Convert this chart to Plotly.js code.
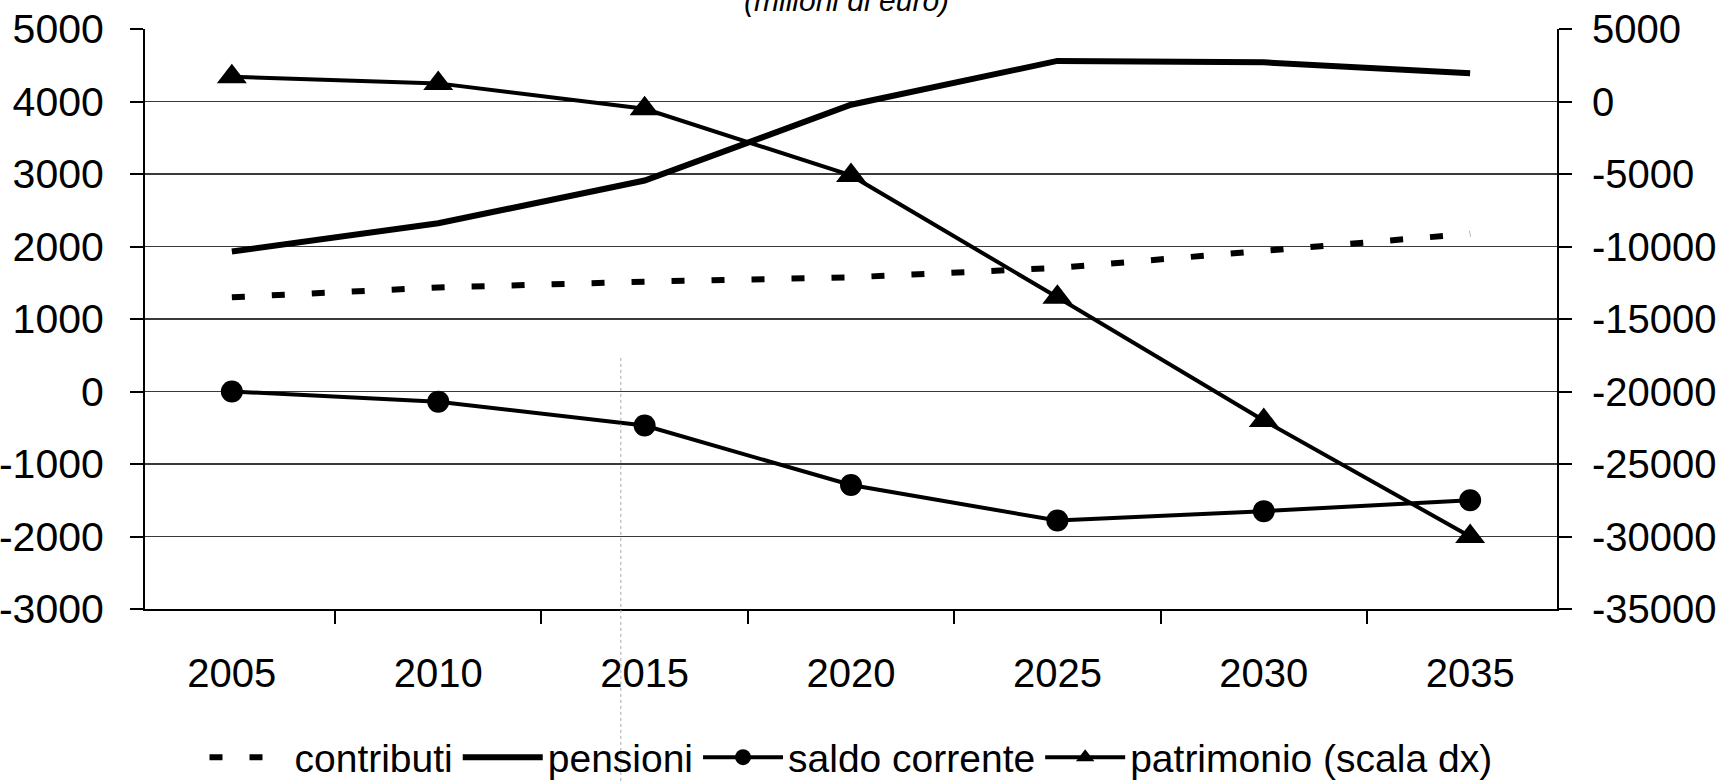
<!DOCTYPE html>
<html>
<head>
<meta charset="utf-8">
<script src="https://cdn.plot.ly/plotly-3.0.1.min.js"></script>
<style>html,body{margin:0;padding:0;background:#fff;}</style>
</head>
<body>
<div id="chart" style="width:1720px;height:784px;"></div>
<script>
const years = ["2005", "2010", "2015", "2020", "2025", "2030", "2035"];
const contributi = [1300, 1435, 1515, 1575, 1705, 1930, 2175];
const pensioni = [1930, 2320, 2910, 3955, 4560, 4540, 4390];
const saldoCorrente = [0, -140, -470, -1290, -1780, -1650, -1500];
const patrimonio = [1700, 1250, -500, -5100, -13500, -22000, -30000];
const leftTicks = [-3000, -2000, -1000, 0, 1000, 2000, 3000, 4000, 5000];
const leftTickText = ["-3000", "-2000", "-1000", "0", "1000", "2000", "3000", "4000", "5000"];
const rightTicks = [-35000, -30000, -25000, -20000, -15000, -10000, -5000, 0, 5000];
const rightTickText = ["-35000", "-30000", "-25000", "-20000", "-15000", "-10000", "-5000", "0", "5000"];

const FONT = '"Liberation Sans", Arial, sans-serif';
const TICKSIZE = 40;

const traces = [
  {x: years, y: contributi, name: 'contributi', type: 'scatter', mode: 'lines',
   line: {color: '#000', width: 6, dash: '13px,27px'}},
  {x: years, y: pensioni, name: 'pensioni', type: 'scatter', mode: 'lines',
   line: {color: '#000', width: 6}},
  {x: years, y: saldoCorrente, name: 'saldo corrente', type: 'scatter', mode: 'lines+markers',
   line: {color: '#000', width: 4}, marker: {symbol: 'circle', size: 22, color: '#000'}},
  {x: years, y: patrimonio, name: 'patrimonio (scala dx)', type: 'scatter', mode: 'lines+markers',
   yaxis: 'y2', line: {color: '#000', width: 4}, marker: {symbol: 'triangle-up', size: 26, color: '#000'}}
];

const layout = {
  width: 1720, height: 784,
  margin: {l: 145, r: 163, t: 29, b: 175, autoexpand: false},
  paper_bgcolor: '#fff', plot_bgcolor: '#fff',
  font: {family: FONT, size: TICKSIZE, color: '#000'},
  showlegend: true,
  legend: {orientation: 'h', x: 0.5, xanchor: 'center', yref: 'container', y: 0.034, yanchor: 'middle',
           font: {family: FONT, size: 39, color: '#000'}, itemwidth: 80, bgcolor: 'rgba(0,0,0,0)'},
  xaxis: {type: 'category', tickson: 'boundaries', ticks: 'outside', ticklen: 13, tickwidth: 2,
          tickcolor: '#000', showline: true, linecolor: '#000', linewidth: 2, showgrid: false,
          tickfont: {family: FONT, size: TICKSIZE, color: '#000'}, ticklabelstandoff: 28, fixedrange: true},
  yaxis: {range: [-3000, 5000], tickvals: leftTicks, ticktext: leftTickText, ticks: 'outside', ticklen: 13, tickwidth: 2,
          tickcolor: '#000', showline: true, linecolor: '#000', linewidth: 2, showgrid: true,
          gridcolor: '#3a3a3a', gridwidth: 1.4, zeroline: false,
          tickfont: {family: FONT, size: TICKSIZE + 1, color: '#000'}, ticklabelstandoff: 18},
  yaxis2: {range: [-35000, 5000], tickvals: rightTicks, ticktext: rightTickText, overlaying: 'y', side: 'right',
           ticks: 'outside', ticklen: 13, tickwidth: 2, tickcolor: '#000', showline: true,
           linecolor: '#000', linewidth: 2, showgrid: false, zeroline: false,
           tickfont: {family: FONT, size: TICKSIZE, color: '#000'}, ticklabelstandoff: 12},
  annotations: [{text: '<i>(milioni di euro)</i>', xref: 'paper', yref: 'paper', x: 0.497, y: 1.017,
                 xanchor: 'center', yanchor: 'bottom', showarrow: false,
                 font: {family: FONT, size: 30, color: '#000'}}],
  shapes: [{type: 'line', xref: 'paper', yref: 'paper', x0: 0.337, x1: 0.337, y0: 0.433, y1: -0.302,
            line: {color: '#aaa', width: 1, dash: 'dot'}}]
};

Plotly.newPlot('chart', traces, layout, {displayModeBar: false, staticPlot: true});
</script>
</body>
</html>
